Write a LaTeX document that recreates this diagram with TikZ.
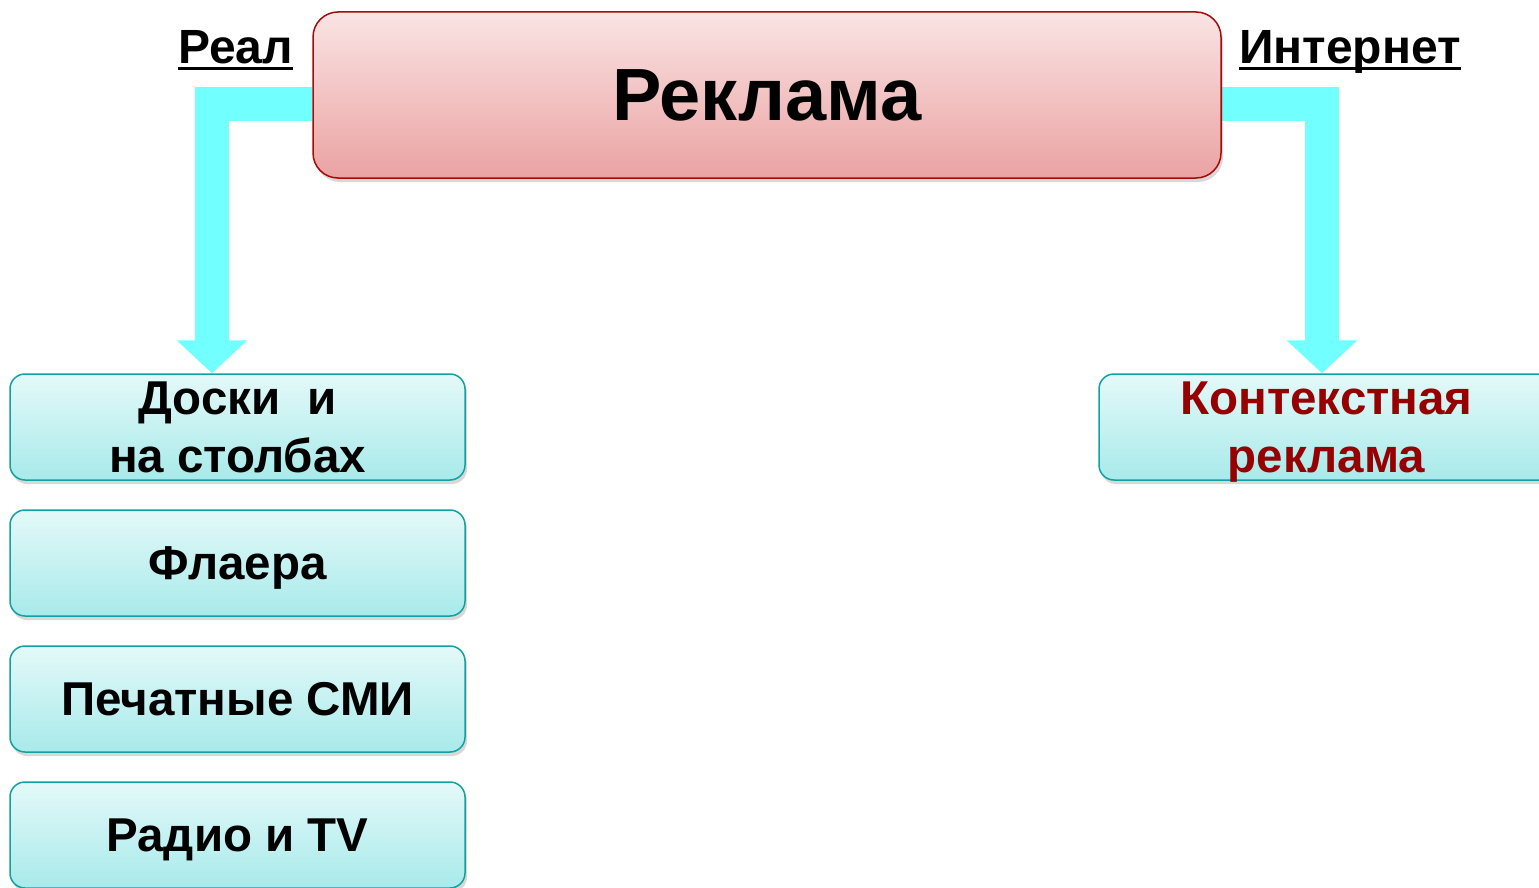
\documentclass[tikz,border=0pt]{standalone}
\usepackage{fontspec}
\setmainfont{Liberation Sans}
\usetikzlibrary{shadows,arrows.meta,backgrounds}
\definecolor{mainborder}{RGB}{165,10,10}
\definecolor{maintop}{RGB}{250,228,228}
\definecolor{mainbot}{RGB}{235,162,162}
\definecolor{itemborder}{RGB}{20,160,160}
\definecolor{itemtop}{RGB}{228,249,249}
\definecolor{itembot}{RGB}{168,234,234}
\definecolor{arrowcyan}{RGB}{114,255,255}
\definecolor{ctxred}{RGB}{150,0,0}
\tikzset{
  mainbox/.style={draw=mainborder, line width=1.5pt, rounded corners=25pt,
    top color=maintop, bottom color=mainbot, minimum width=908pt, minimum height=166pt,
    drop shadow={shadow xshift=2pt, shadow yshift=-4pt, opacity=0.3},
    font=\fontsize{74}{80}\selectfont\bfseries},
  itembox/.style={draw=itemborder, line width=1.5pt, rounded corners=15pt,
    top color=itemtop, bottom color=itembot, minimum width=455pt, minimum height=106pt,
    align=center, inner sep=0pt, text depth=0pt,
    drop shadow={shadow xshift=2pt, shadow yshift=-4pt, opacity=0.3},
    font=\fontsize{47.5}{58}\selectfont\bfseries},
  toplabel/.style={inner sep=0pt, font=\fontsize{48}{52}\selectfont\bfseries},
  blockarrow/.style={line width=34pt, draw=arrowcyan, -{Triangle[width=69pt,length=33pt]}},
  underl/.style={line width=3pt}
}
\begin{document}
\begin{tikzpicture}[x=1pt,y=-1pt]
\useasboundingbox (0,0) rectangle (1539,888);

\node[mainbox] (main) at (767,95) {Реклама};

\node[itembox] (b1) at (237.5,427) {Доски~~и\\на столбах};
\node[itembox] (b2) at (237.5,563) {Флаера};
\node[itembox] (b3) at (237.5,699) {Печатные СМИ};
\node[itembox] (b4) at (237.5,835) {Радио и TV};
\node[itembox, text=ctxred] (ctx) at (1326.5,427) {Контекстная\\реклама};

\node[toplabel, anchor=base west] (real) at (178,64) {Реал};
\draw[underl] ([yshift=-4.5pt]real.base west) -- ([yshift=-4.5pt]real.base east);
\node[toplabel, anchor=base west] (inet) at (1239,64) {Интернет};
\draw[underl] ([yshift=-4.5pt]inet.base west) -- ([yshift=-4.5pt]inet.base east);

\coordinate (lh) at (0,104);
\coordinate (ltip) at ([xshift=-25.5pt]b1.north);
\coordinate (rtip) at ([xshift=-4.5pt]ctx.north);
\begin{scope}[on background layer]
\fill[white] (0,0) rectangle (1539,888);
\draw[blockarrow] (main.west |- lh) -| (ltip);
\draw[blockarrow] (main.east |- lh) -| (rtip);
\end{scope}
\end{tikzpicture}
\end{document}
